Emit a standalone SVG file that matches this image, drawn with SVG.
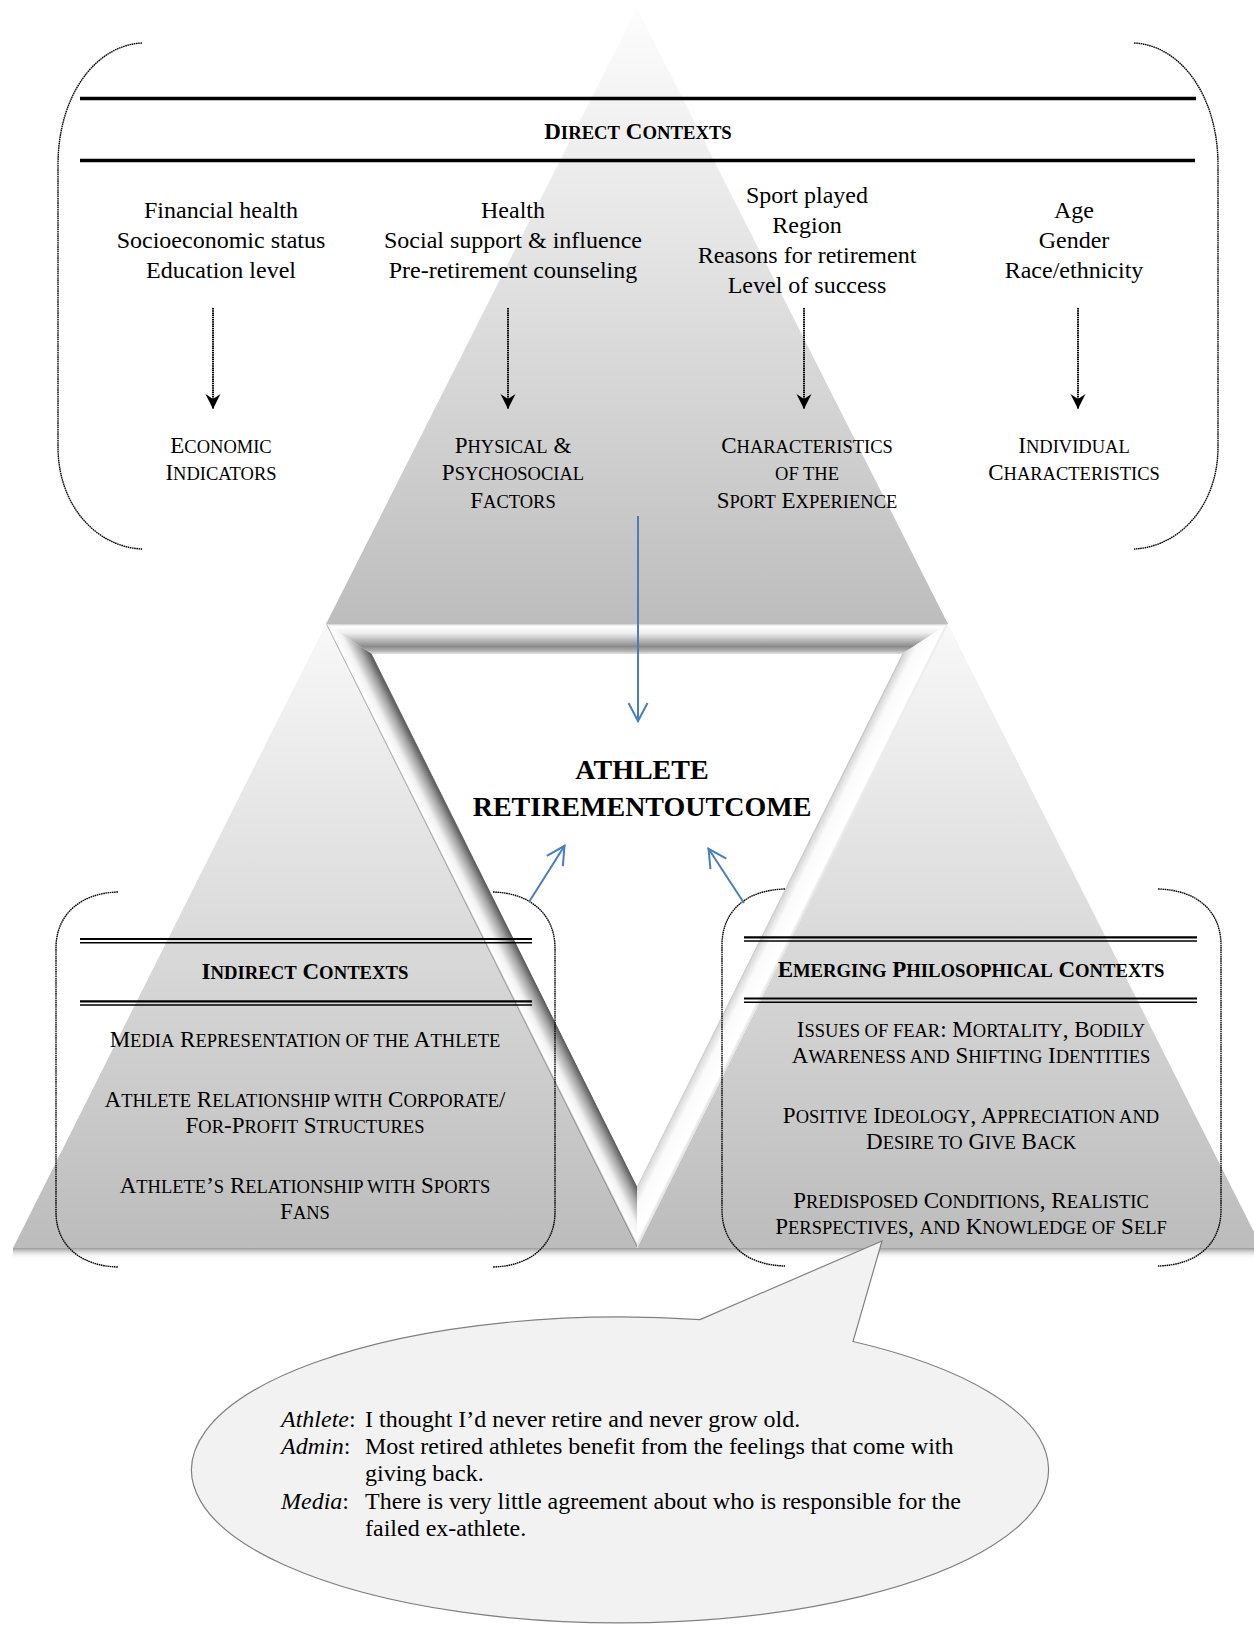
<svg xmlns="http://www.w3.org/2000/svg" width="1254" height="1625" viewBox="0 0 1254 1625">
<defs>
<style>
.t{font-family:"Liberation Serif","Times New Roman",serif;fill:#000}
.c{text-anchor:middle}
.n24{font-size:24px}
.sc{font-size:23px}
.s{font-size:18.5px}
.hd{font-size:23px;font-weight:bold}
.hd .s{font-size:18.7px}
.title{font-size:28px;font-weight:bold}
.brk{fill:none;stroke:#000;stroke-width:1.4;stroke-dasharray:1.6 0.6}
.dot{stroke:#000;stroke-width:2;stroke-dasharray:1.5 0.7;fill:none}
.blue{stroke:#4a7ebb;stroke-width:2;fill:none}
</style>
<linearGradient id="gTop" gradientUnits="userSpaceOnUse" x1="0" y1="8" x2="0" y2="624">
<stop offset="0" stop-color="#fdfdfd"/><stop offset="1" stop-color="#bdbdbd"/>
</linearGradient>
<linearGradient id="gLow" gradientUnits="userSpaceOnUse" x1="0" y1="624" x2="0" y2="1248">
<stop offset="0" stop-color="#f8f8f8"/><stop offset="1" stop-color="#bcbcbc"/>
</linearGradient>
<linearGradient id="gShadow" gradientUnits="userSpaceOnUse" x1="0" y1="1248" x2="0" y2="1259">
<stop offset="0" stop-color="#9a9a9a"/><stop offset="1" stop-color="#ffffff" stop-opacity="0"/>
</linearGradient>
<linearGradient id="gBandTop" gradientUnits="userSpaceOnUse" x1="0" y1="624" x2="0" y2="654">
<stop offset="0" stop-color="#d0d0d0"/><stop offset="0.08" stop-color="#ffffff"/><stop offset="0.3" stop-color="#eeeeee"/><stop offset="0.55" stop-color="#b8b8b8"/><stop offset="0.75" stop-color="#8a8a8a"/><stop offset="0.9" stop-color="#b4b4b4"/><stop offset="1" stop-color="#e2e2e2"/>
</linearGradient>
<linearGradient id="gBandLeft" gradientUnits="userSpaceOnUse" x1="481.5" y1="936" x2="506.3" y2="923.6">
<stop offset="0" stop-color="#808080"/><stop offset="0.07" stop-color="#ffffff"/><stop offset="0.35" stop-color="#f2f2f2"/><stop offset="0.7" stop-color="#a8a8a8"/><stop offset="0.96" stop-color="#5e5e5e"/><stop offset="1" stop-color="#777777"/>
</linearGradient>
<linearGradient id="gBandRight" gradientUnits="userSpaceOnUse" x1="792.5" y1="936" x2="767.7" y2="923.6">
<stop offset="0" stop-color="#e0e0e0"/><stop offset="0.12" stop-color="#ffffff"/><stop offset="0.65" stop-color="#fbfbfb"/><stop offset="0.92" stop-color="#dcdcdc"/><stop offset="1" stop-color="#c6c6c6"/>
</linearGradient>
<marker id="ahBlack" viewBox="-17 -9 19 18" refX="0" refY="0" markerWidth="19" markerHeight="18" markerUnits="userSpaceOnUse" orient="auto">
<path d="M-15,-7.5 L0,0 L-15,7.5 L-10,0 Z" fill="#000"/>
</marker>
<marker id="ahBlue" viewBox="-22 -12 26 24" refX="1" refY="0" markerWidth="26" markerHeight="24" markerUnits="userSpaceOnUse" orient="auto">
<path d="M-18,-9.5 L0,0 L-18,9.5" fill="none" stroke="#4a7ebb" stroke-width="2"/>
</marker>
</defs>

<rect width="1254" height="1625" fill="#ffffff"/>

<g id="triangles">
<polygon points="637,8 948,624 326,624" fill="url(#gTop)"/>
<polygon points="326,624 637,1248 13,1248" fill="url(#gLow)"/>
<polygon points="948,624 1262,1248 637,1248" fill="url(#gLow)"/>
<rect x="13" y="1248" width="1241" height="11" fill="url(#gShadow)"/>
</g>

<g id="center-frame">
<polygon points="326,624 948,624 637,1248" fill="#ffffff"/>
<polygon points="326,624 948,624 902,654 372,654" fill="url(#gBandTop)"/>
<polygon points="326,624 372,654 637,1186 637,1248" fill="url(#gBandLeft)"/>
<polygon points="948,624 637,1248 637,1186 902,654" fill="url(#gBandRight)"/>
<polygon points="372,654 902,654 637,1186" fill="#ffffff"/>
</g>

<g id="node-direct-contexts">
<path class="brk" d="M142,43 C96,45 58,95 58,165 L58,447 C58,505 96,547 142,549"/>
<path class="brk" d="M1134,43 C1180,45 1218,95 1218,165 L1218,447 C1218,505 1180,547 1134,549"/>
<line x1="80" y1="98.5" x2="1196" y2="98.5" stroke="#000" stroke-width="3.5"/>
<line x1="80" y1="160.5" x2="1195" y2="160.5" stroke="#000" stroke-width="3.5"/>
<text class="t hd c" x="638" y="139">D<tspan class="s">IRECT</tspan> C<tspan class="s">ONTEXTS</tspan></text>
<g class="t n24 c">
<text x="221" y="218">Financial health</text>
<text x="221" y="248">Socioeconomic status</text>
<text x="221" y="278">Education level</text>
<text x="513" y="218">Health</text>
<text x="513" y="248">Social support &amp; influence</text>
<text x="513" y="278">Pre-retirement counseling</text>
<text x="807" y="203">Sport played</text>
<text x="807" y="233">Region</text>
<text x="807" y="263">Reasons for retirement</text>
<text x="807" y="293">Level of success</text>
<text x="1074" y="218">Age</text>
<text x="1074" y="248">Gender</text>
<text x="1074" y="278">Race/ethnicity</text>
</g>
<g class="t sc c">
<text x="221" y="453">E<tspan class="s">CONOMIC</tspan></text>
<text x="221" y="480">I<tspan class="s">NDICATORS</tspan></text>
<text x="513" y="453">P<tspan class="s">HYSICAL</tspan> &amp;</text>
<text x="513" y="480">P<tspan class="s">SYCHOSOCIAL</tspan></text>
<text x="513" y="508">F<tspan class="s">ACTORS</tspan></text>
<text x="807" y="453">C<tspan class="s">HARACTERISTICS</tspan></text>
<text x="807" y="480"><tspan class="s">OF THE</tspan></text>
<text x="807" y="508">S<tspan class="s">PORT</tspan> E<tspan class="s">XPERIENCE</tspan></text>
<text x="1074" y="453">I<tspan class="s">NDIVIDUAL</tspan></text>
<text x="1074" y="480">C<tspan class="s">HARACTERISTICS</tspan></text>
</g>
</g>

<g id="node-indirect-contexts">
<path class="brk" d="M118,892 C80,893 56,915 56,948 L56,1212 C56,1245 80,1266 118,1267"/>
<path class="brk" d="M493,892 C531,893 555,915 555,948 L555,1212 C555,1245 531,1266 493,1267"/>
<line x1="80" y1="939" x2="532" y2="939" stroke="#000" stroke-width="2.2"/>
<line x1="80" y1="942.8" x2="532" y2="942.8" stroke="#000" stroke-width="1.5"/>
<line x1="80" y1="1001.3" x2="532" y2="1001.3" stroke="#000" stroke-width="2.2"/>
<line x1="80" y1="1005" x2="532" y2="1005" stroke="#000" stroke-width="1.5"/>
<text class="t hd c" x="305" y="979">I<tspan class="s">NDIRECT</tspan> C<tspan class="s">ONTEXTS</tspan></text>
<g class="t sc c">
<text x="305" y="1047">M<tspan class="s">EDIA</tspan> R<tspan class="s">EPRESENTATION OF THE</tspan> A<tspan class="s">THLETE</tspan></text>
<text x="305" y="1107">A<tspan class="s">THLETE</tspan> R<tspan class="s">ELATIONSHIP WITH</tspan> C<tspan class="s">ORPORATE</tspan>/</text>
<text x="305" y="1133">F<tspan class="s">OR</tspan>-P<tspan class="s">ROFIT</tspan> S<tspan class="s">TRUCTURES</tspan></text>
<text x="305" y="1193">A<tspan class="s">THLETE</tspan>’<tspan class="s">S</tspan> R<tspan class="s">ELATIONSHIP WITH</tspan> S<tspan class="s">PORTS</tspan></text>
<text x="305" y="1219">F<tspan class="s">ANS</tspan></text>
</g>
</g>

<g id="node-emerging-contexts">
<path class="brk" d="M785,889 C745,890 722,912 722,945 L722,1210 C722,1243 745,1265 785,1266"/>
<path class="brk" d="M1158,889 C1198,890 1221,912 1221,945 L1221,1210 C1221,1243 1198,1265 1158,1266"/>
<line x1="744" y1="937.3" x2="1197" y2="937.3" stroke="#000" stroke-width="2.2"/>
<line x1="744" y1="941" x2="1197" y2="941" stroke="#000" stroke-width="1.5"/>
<line x1="744" y1="998.5" x2="1197" y2="998.5" stroke="#000" stroke-width="2.2"/>
<line x1="744" y1="1002.2" x2="1197" y2="1002.2" stroke="#000" stroke-width="1.5"/>
<text class="t hd c" x="971" y="977">E<tspan class="s">MERGING</tspan> P<tspan class="s">HILOSOPHICAL</tspan> C<tspan class="s">ONTEXTS</tspan></text>
<g class="t sc c">
<text x="971" y="1037">I<tspan class="s">SSUES OF FEAR</tspan>: M<tspan class="s">ORTALITY</tspan>, B<tspan class="s">ODILY</tspan></text>
<text x="971" y="1063">A<tspan class="s">WARENESS AND</tspan> S<tspan class="s">HIFTING</tspan> I<tspan class="s">DENTITIES</tspan></text>
<text x="971" y="1123">P<tspan class="s">OSITIVE</tspan> I<tspan class="s">DEOLOGY</tspan>, A<tspan class="s">PPRECIATION AND</tspan></text>
<text x="971" y="1149">D<tspan class="s">ESIRE TO</tspan> G<tspan class="s">IVE</tspan> B<tspan class="s">ACK</tspan></text>
<text x="971" y="1208">P<tspan class="s">REDISPOSED</tspan> C<tspan class="s">ONDITIONS</tspan>, R<tspan class="s">EALISTIC</tspan></text>
<text x="971" y="1234">P<tspan class="s">ERSPECTIVES</tspan>, <tspan class="s">AND</tspan> K<tspan class="s">NOWLEDGE OF</tspan> S<tspan class="s">ELF</tspan></text>
</g>
</g>

<g id="node-outcome">
<text class="t title c" x="642" y="779">ATHLETE</text>
<text class="t title c" x="642" y="816">RETIREMENTOUTCOME</text>
</g>

<g id="node-callout">
<path d="M700,1319.6 L882,1241 L853,1341.5 A428.5,153 0 1 1 700,1319.6 Z" fill="#f2f2f2" stroke="#808080" stroke-width="1.2"/>
<g class="t n24">
<text y="1427"><tspan x="281" font-style="italic">Athlete</tspan>:<tspan x="365">I thought I’d never retire and never grow old.</tspan></text>
<text y="1454"><tspan x="281" font-style="italic">Admin</tspan>:<tspan x="365">Most retired athletes benefit from the feelings that come with</tspan></text>
<text x="365" y="1481">giving back.</text>
<text y="1509"><tspan x="281" font-style="italic">Media</tspan>:<tspan x="365">There is very little agreement about who is responsible for the</tspan></text>
<text x="365" y="1536">failed ex-athlete.</text>
</g>
</g>

<g id="connectors">
<line class="dot" x1="213" y1="308" x2="213" y2="409" marker-end="url(#ahBlack)"/>
<line class="dot" x1="508" y1="308" x2="508" y2="409" marker-end="url(#ahBlack)"/>
<line class="dot" x1="804" y1="308" x2="804" y2="409" marker-end="url(#ahBlack)"/>
<line class="dot" x1="1078" y1="308" x2="1078" y2="409" marker-end="url(#ahBlack)"/>
<line class="blue" x1="638" y1="516" x2="638" y2="722" marker-end="url(#ahBlue)"/>
<line class="blue" x1="529" y1="902" x2="565" y2="845" marker-end="url(#ahBlue)"/>
<line class="blue" x1="744" y1="903" x2="708" y2="848" marker-end="url(#ahBlue)"/>
</g>
</svg>
